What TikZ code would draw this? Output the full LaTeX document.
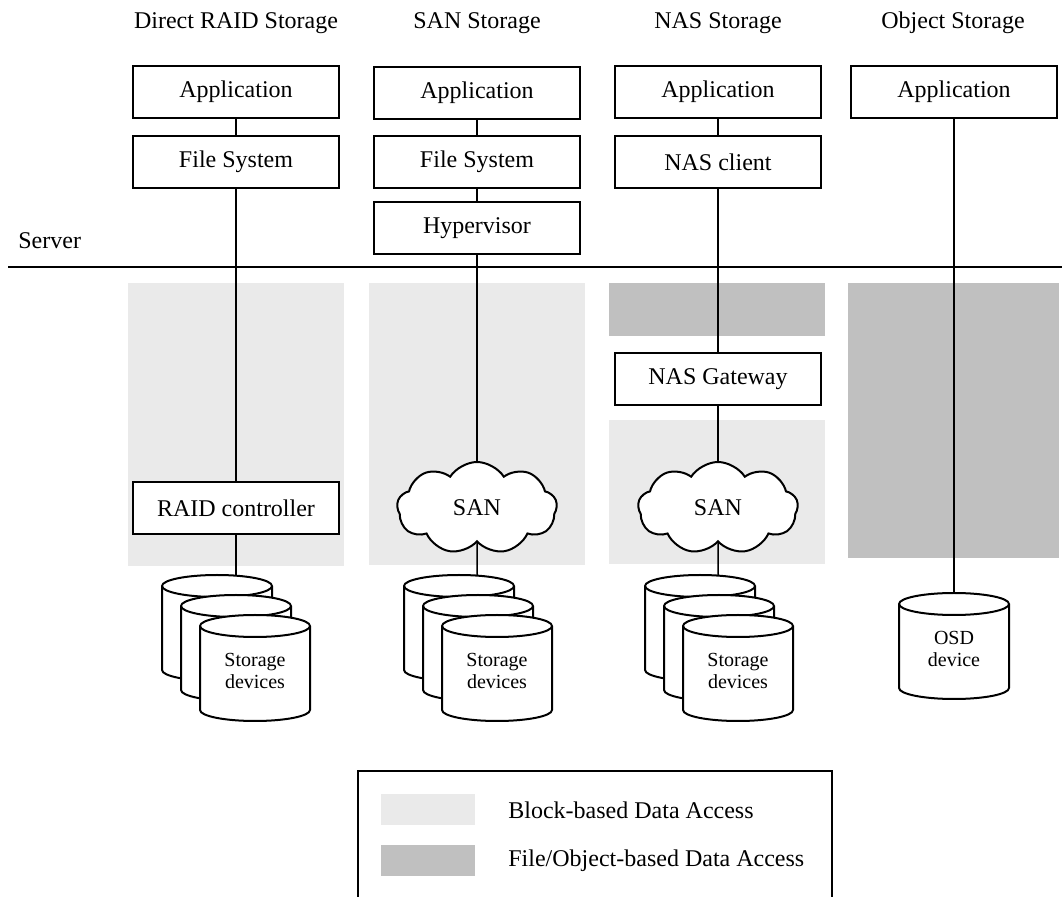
\documentclass[tikz,border=0pt]{standalone}
\usepackage{fontspec}
\setmainfont{Liberation Serif}
\usetikzlibrary{shapes.symbols}
\definecolor{blockgray}{HTML}{EAEAEA}
\definecolor{filegray}{HTML}{C0C0C0}
\tikzset{
  box/.style={draw, line width=1pt, fill=white, minimum width=103pt, minimum height=26pt, inner sep=0pt, font=\fontsize{12}{14}\selectfont},
  lbl/.style={font=\fontsize{12}{14}\selectfont, inner sep=0pt},
  conn/.style={line width=0.75pt},
  sancloud/.style={cloud, cloud puffs=9, cloud puff arc=115, aspect=1.7, draw, line width=1pt, fill=white, minimum width=80pt, minimum height=46pt, inner sep=0pt, font=\fontsize{12}{14}\selectfont},
  cyltxt/.style={font=\fontsize{10}{11}\selectfont, align=center, inner sep=0pt},
  cylline/.style={draw, line width=1pt, fill=white},
  cyl/.pic={
    \path[cylline] (-55,0) -- (-55,84) arc[start angle=180,end angle=360,x radius=27.5pt,y radius=5.5pt] -- (55,0) arc[start angle=0,end angle=180,x radius=27.5pt,y radius=5.5pt] -- cycle;
    \draw[line width=1pt] (-55,0) arc[start angle=180,end angle=360,x radius=27.5pt,y radius=5.5pt];
  }
}
\begin{document}
\begin{tikzpicture}[x=0.5pt, y=-0.5pt]
\useasboundingbox (0,0) rectangle (1062,897);

% shaded regions
\fill[blockgray] (128,283) rectangle (344,566);
\fill[blockgray] (369,283) rectangle (585,565);
\fill[filegray] (609,283) rectangle (825,336);
\fill[blockgray] (609,420) rectangle (825,564);
\fill[filegray] (848,283) rectangle (1059,558);

% titles
\node[lbl] (t1) at (236,23) {Direct RAID Storage};
\node[lbl] (t2) at (477,23) {SAN Storage};
\node[lbl] (t3) at (718,23) {NAS Storage};
\node[lbl] (t4) at (953,23) {Object Storage};
\node[lbl, anchor=base west] (srv) at (18,249) {Server};
\draw[line width=1pt] (8,267) -- (1062,267);

% column 1
\node[box] (a1) at (236,92) {Application};
\node[box] (f1) at (236,162) {File System};
\node[box] (r1) at (236,508) {RAID controller};
\coordinate (s1) at (236,586);
\draw[conn] (a1) -- (f1);
\draw[conn] (f1) -- (r1);
\draw[conn] (r1) -- (s1);

% column 2
\node[box] (a2) at (477,93) {Application};
\node[box] (f2) at (477,162) {File System};
\node[box] (h2) at (477,228) {Hypervisor};
\node[sancloud] (n2) at (477,508) {SAN};
\coordinate (s2) at (477,586);
\draw[conn] (a2) -- (f2);
\draw[conn] (f2) -- (h2);
\draw[conn] (h2) -- (n2);
\draw[conn] (n2) -- (s2);

% column 3
\node[box] (a3) at (718,92) {Application};
\node[box] (c3) at (718,162) {NAS client};
\node[box] (g3) at (718,379) {NAS Gateway};
\node[sancloud] (n3) at (718,508) {SAN};
\coordinate (s3) at (718,586);
\draw[conn] (a3) -- (c3);
\draw[conn] (c3) -- (g3);
\draw[conn] (g3) -- (n3);
\draw[conn] (n3) -- (s3);

% column 4
\node[box] (a4) at (954,92) {Application};
\coordinate (s4) at (954,604);
\draw[conn] (a4) -- (s4);

% storage cylinders
\foreach \cx in {217,459,700} {
  \pic at (\cx,586) {cyl};
  \pic at (\cx+19,606) {cyl};
  \pic at (\cx+38,626) {cyl};
}
\node[cyltxt] (d1) at (255,671) {Storage\\devices};
\node[cyltxt] (d2) at (497,671) {Storage\\devices};
\node[cyltxt] (d3) at (738,671) {Storage\\devices};
\pic at (954,604) {cyl};
\node[cyltxt] (d4) at (954,649) {OSD\\device};

% legend
\draw[line width=1pt] (358,897) -- (358,771) -- (832,771) -- (832,897);
\fill[blockgray] (381,794) rectangle (475,825);
\fill[filegray] (381,845) rectangle (475,876);
\node[lbl, anchor=west] (l1) at (508,810) {Block-based Data Access};
\node[lbl, anchor=west] (l2) at (508,861) {File/Object-based Data Access};
\end{tikzpicture}
\end{document}
